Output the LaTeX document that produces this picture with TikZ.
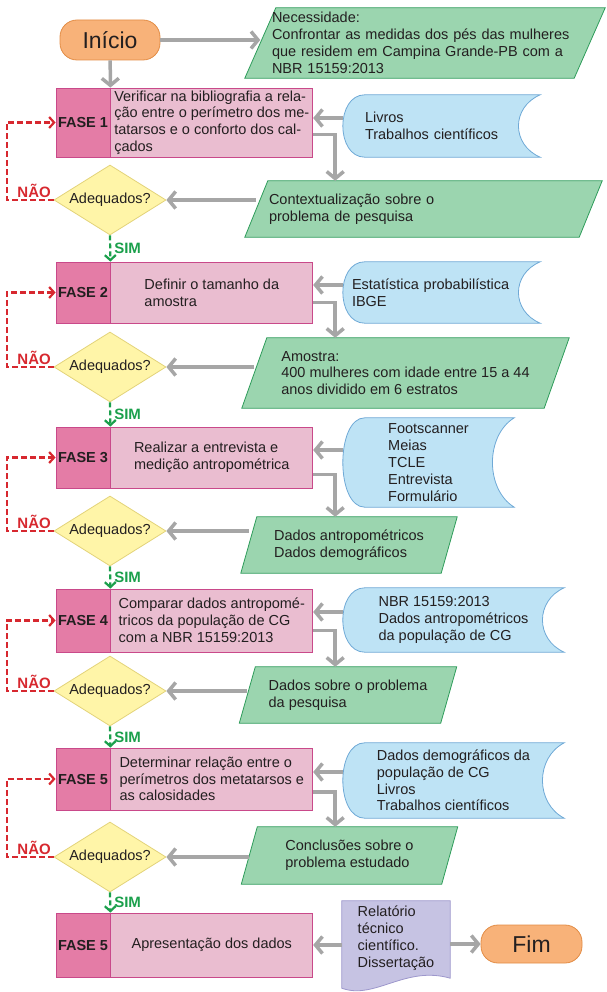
\documentclass[tikz,border=0pt]{standalone}
\usepackage{fontspec}
\setmainfont{Liberation Sans}
\usetikzlibrary{shapes,arrows,positioning,calc,arrows.meta,backgrounds}

\definecolor{fasecor}{HTML}{E47CA6}
\definecolor{tarefacor}{HTML}{EABDD0}
\definecolor{rosaborda}{HTML}{C9498A}
\definecolor{dadocor}{HTML}{9BD5AF}
\definecolor{dadoborda}{HTML}{2E9C5A}
\definecolor{fontecor}{HTML}{BEE3F5}
\definecolor{fonteborda}{HTML}{6FA9D6}
\definecolor{decisaocor}{HTML}{FFF5A8}
\definecolor{decisaoborda}{HTML}{E3D37A}
\definecolor{terminalcor}{HTML}{F8B279}
\definecolor{terminalborda}{HTML}{E28C45}
\definecolor{doccor}{HTML}{C6C3E3}
\definecolor{docborda}{HTML}{9D97CC}
\definecolor{setacor}{HTML}{A6A6A6}
\definecolor{naocor}{HTML}{D7282F}
\definecolor{simcor}{HTML}{1BA04C}
\definecolor{textocor}{HTML}{231F20}

\newcommand{\paralelo}[2]{%
  \filldraw[draw=dadoborda, fill=dadocor, line width=0.8pt]
    ([xshift=#2]#1.north west) -- ([xshift=#2]#1.north east) --
    ([xshift=-#2]#1.south east) -- ([xshift=-#2]#1.south west) -- cycle;}
\newcommand{\armazem}[1]{%
  \filldraw[draw=fonteborda, fill=fontecor, line width=0.8pt]
    let \p1=(#1.north west), \p2=(#1.south east), \n1={0.2*(\y1-\y2)} in
    (\x1+22pt,\y1) -- (\x2,\y1)
    .. controls (\x2-29pt,\y1-\n1) and (\x2-29pt,\y2+\n1) .. (\x2,\y2)
    -- (\x1+22pt,\y2)
    .. controls (\x1-7.3pt,\y2) and (\x1-7.3pt,\y1) .. cycle;}
\newcommand{\documento}[1]{%
  \filldraw[draw=docborda, fill=doccor, line width=0.8pt]
    let \p1=(#1.south west), \p2=(#1.south east) in
    (#1.north west) -- (#1.north east) -- (\x2,\y2-3pt)
    .. controls (\x2-45pt,\y2+10pt) and (\x1+33pt,\y1-25pt) .. (\x1,\y1-13pt) -- cycle;}

\tikzset{
  texto/.style={font=\fontsize{14.5}{16.8}\selectfont, text=textocor},
  terminal/.style={draw=terminalborda, fill=terminalcor, line width=0.8pt, rounded corners=17pt,
    minimum width=100pt, minimum height=40pt, font=\fontsize{23}{23}\selectfont, text=textocor},
  fase/.style={texto, draw=rosaborda, fill=fasecor, line width=0.8pt, minimum width=54pt,
    inner sep=0pt, font=\fontsize{14.5}{16.8}\selectfont\bfseries},
  tarefa/.style={texto, draw=rosaborda, fill=tarefacor, line width=0.8pt, minimum width=202pt,
    align=left, inner sep=2pt},
  dado/.style={texto, align=left, inner sep=0pt},
  fonte/.style={texto, align=left, inner sep=0pt},
  decisao/.style={texto, diamond, aspect=1.6, draw=decisaoborda, fill=decisaocor, line width=0.8pt,
    minimum width=112pt, minimum height=70pt, inner sep=0pt},
  seta/.style={draw=setacor, line width=3.5pt, -{Straight Barb[length=7pt,width=17pt]}},
  nao/.style={draw=naocor, line width=2.2pt, dash pattern=on 6pt off 3pt,
    -{Straight Barb[length=5pt,width=11pt]}},
  sim/.style={draw=simcor, line width=2.2pt, dash pattern=on 5pt off 3pt,
    -{Straight Barb[length=5pt,width=11pt]}},
  naotexto/.style={text=naocor, font=\fontsize{15}{15}\selectfont\bfseries, inner sep=1pt, xshift=4pt},
  simtexto/.style={text=simcor, font=\fontsize{15}{15}\selectfont\bfseries, inner sep=3pt}
}

\begin{document}
\begin{tikzpicture}[x=1pt, y=-1pt]
  \useasboundingbox (0,0) rectangle (606,992);

  \node[terminal] (ini) at (110,40) {Início};
  \node[dado, minimum width=329pt, minimum height=70pt, text width=306pt] (nec) at (425,43)
    {Necessidade:\\Confrontar as medidas dos pés das mulheres\\que residem em Campina Grande-PB com a\\NBR 15159:2013};

  \node[fase, minimum height=69pt] (f1) at (83,122.5) {FASE 1};
  \node[tarefa, minimum height=69pt, right=0pt of f1] (t1)
    {Verificar na bibliografia a rela-\\ção entre o perímetro dos me-\\tatarsos e o conforto dos cal-\\çados};
  \node[fonte, minimum width=197pt, minimum height=62pt, text width=153pt] (liv) at (441.5,126)
    {Livros\\Trabalhos científicos};
  \node[dado, minimum width=334pt, minimum height=56pt, text width=309pt] (ctx) at (423.5,209)
    {Contextualização sobre o\\problema de pesquisa};
  \node[decisao] (d1) at (110,200) {Adequados?};

  \node[fase, minimum height=61pt] (f2) at (83,292.5) {FASE 2};
  \node[tarefa, minimum height=61pt, right=0pt of f2] (t2) {Definir o tamanho da\\amostra};
  \node[fonte, minimum width=197pt, minimum height=61pt, text width=179pt] (est) at (441.5,292.5)
    {Estatística probabilística\\IBGE};
  \node[dado, minimum width=302pt, minimum height=70pt] (amo) at (405.5,373)
    {Amostra:\\400 mulheres com idade entre 15 a 44\\anos dividido em 6 estratos};
  \node[decisao] (d2) at (110,367) {Adequados?};

  \node[fase, minimum height=61pt] (f3) at (83,457.5) {FASE 3};
  \node[tarefa, minimum height=61pt, right=0pt of f3] (t3) {Realizar a entrevista e\\medição antropométrica};
  \node[fonte, minimum width=171pt, minimum height=89pt] (foot) at (428.5,462.5)
    {Footscanner\\Meias\\TCLE\\Entrevista\\Formulário};
  \node[dado, minimum width=200pt, minimum height=56pt] (ant) at (349,545)
    {Dados antropométricos\\Dados demográficos};
  \node[decisao] (d3) at (110,531) {Adequados?};

  \node[fase, minimum height=63pt] (f4) at (83,620.5) {FASE 4};
  \node[tarefa, minimum height=63pt, right=0pt of f4] (t4)
    {Comparar dados antropomé-\\tricos da população de CG\\com a NBR 15159:2013};
  \node[fonte, minimum width=221pt, minimum height=64pt] (nbr) at (453.5,620)
    {NBR 15159:2013\\Dados antropométricos\\da população de CG};
  \node[dado, minimum width=201pt, minimum height=56pt] (prob) at (348,695)
    {Dados sobre o problema\\da pesquisa};
  \node[decisao] (d4) at (110,691) {Adequados?};

  \node[fase, minimum height=62pt] (f5) at (83,779) {FASE 5};
  \node[tarefa, minimum height=62pt, right=0pt of f5] (t5)
    {Determinar relação entre o\\perímetros dos metatarsos e\\as calosidades};
  \node[fonte, minimum width=221pt, minimum height=75pt] (dem) at (453.5,780.5)
    {Dados demográficos da\\população de CG\\Livros\\Trabalhos científicos};
  \node[dado, minimum width=200pt, minimum height=57pt] (conc) at (349.5,855.5)
    {Conclusões sobre o\\problema estudado};
  \node[decisao] (d5) at (110,857) {Adequados?};

  \node[fase, minimum height=64pt] (f6) at (83,945) {FASE 5};
  \node[tarefa, minimum height=64pt, right=0pt of f6] (t6) {Apresentação dos dados};
  \node[fonte, minimum width=108pt, minimum height=74pt] (rel) at (396,938)
    {Relatório\\técnico\\científico.\\Dissertação};
  \node[terminal, minimum width=101pt, minimum height=38pt] (fim) at (531.5,944) {Fim};

  \begin{scope}[on background layer]
    \paralelo{nec}{15.5pt}
    \paralelo{ctx}{11.5pt}
    \paralelo{amo}{12.5pt}
    \paralelo{ant}{8pt}
    \paralelo{prob}{8pt}
    \paralelo{conc}{8pt}
    \armazem{liv}
    \armazem{est}
    \armazem{foot}
    \armazem{nbr}
    \armazem{dem}
    \documento{rel}
  \end{scope}

  \draw[seta] (ini) -- (t1.north west);
  \draw[seta] (ini.east) -- (ini.east -| nec.west);

  \draw[seta] ($(t1.east -| liv.west)+(0,-4.5)$) -- ($(t1.east)+(0,-4.5)$);
  \draw[seta] ($(t1.east)+(0,12)$) -| ($(t1.east |- ctx.north)+(22,0)$);
  \draw[seta] (d1.east -| ctx.west) -- (d1.east);
  \draw[nao] (d1.west) -- node[above, naotexto] {NÃO} ++(-47,0) |- (f1.west);
  \draw[sim] (d1.south) -- node[right, simtexto] {SIM} (t2.north west);

  \draw[seta] ($(t2.east -| est.west)+(0,-7.5)$) -- ($(t2.east)+(0,-7.5)$);
  \draw[seta] ($(t2.east)+(0,10)$) -| ($(t2.east |- amo.north)+(22,0)$);
  \draw[seta] (d2.east -| amo.west) -- (d2.east);
  \draw[nao] (d2.west) -- node[above, naotexto] {NÃO} ++(-47,0) |- (f2.west);
  \draw[sim] (d2.south) -- node[right, simtexto] {SIM} (t3.north west);

  \draw[seta] ($(t3.east -| foot.west)+(0,-7.5)$) -- ($(t3.east)+(0,-7.5)$);
  \draw[seta] ($(t3.east)+(0,17)$) -| ($(t3.east |- ant.north)+(22,0)$);
  \draw[seta] (d3.east -| ant.west) -- (d3.east);
  \draw[nao] (d3.west) -- node[above, naotexto] {NÃO} ++(-47,0) |- (f3.west);
  \draw[sim] (d3.south) -- node[right, simtexto] {SIM} (t4.north west);

  \draw[seta] ($(t4.east -| nbr.west)+(0,-8.5)$) -- ($(t4.east)+(0,-8.5)$);
  \draw[seta] ($(t4.east)+(0,10)$) -| ($(t4.east |- prob.north)+(22,0)$);
  \draw[seta] (d4.east -| prob.west) -- (d4.east);
  \draw[nao] (d4.west) -- node[above, naotexto] {NÃO} ++(-47,0) |- (f4.west);
  \draw[sim] (d4.south) -- node[right, simtexto] {SIM} (t5.north west);

  \draw[seta] ($(t5.east -| dem.west)+(0,-7)$) -- ($(t5.east)+(0,-7)$);
  \draw[seta] ($(t5.east)+(0,13)$) -| ($(t5.east |- conc.north)+(22,0)$);
  \draw[seta] (d5.east -| conc.west) -- (d5.east);
  \draw[nao] (d5.west) -- node[above, naotexto] {NÃO} ++(-47,0) |- (f5.west);
  \draw[sim] (d5.south) -- node[right, simtexto] {SIM} (t6.north west);

  \draw[seta] (rel.west |- t6.east) -- (t6.east);
  \draw[seta] (rel.east |- fim.west) -- (fim.west);
\end{tikzpicture}
\end{document}
